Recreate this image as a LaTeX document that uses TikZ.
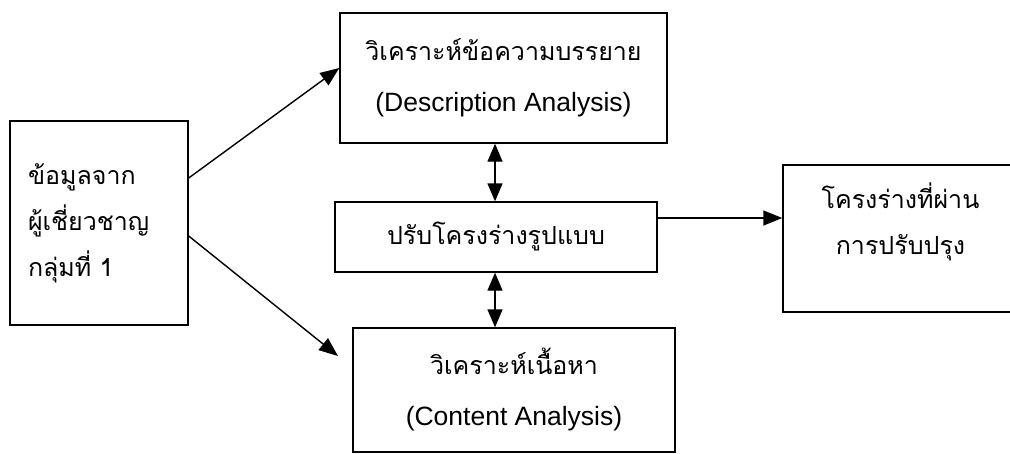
\documentclass[tikz,border=0pt]{standalone}
\usepackage{fontspec}
\setmainfont{Liberation Sans}
\newfontfamily\thai[Script=Thai]{Loma}
\usetikzlibrary{arrows.meta}
\begin{document}
\begin{tikzpicture}[x=1pt,y=-1pt,
  box/.style={draw, line width=1.4pt, rectangle, inner sep=0pt, align=center},
  th/.style={font=\thai\fontsize{25}{46}\selectfont},
  bi/.style={font=\fontsize{26.5}{51}\selectfont},
  conn/.style={line width=1.4pt, -{Triangle[length=19pt,width=15pt]}},
  dconn/.style={line width=1.4pt, {Triangle[length=18pt,width=15pt]}-{Triangle[length=18pt,width=15pt]}}]
\useasboundingbox (0,0) rectangle (1010,453);
\fill[white] (0,0) rectangle (1010,453);
% boxes
\node[box, minimum width=178pt, minimum height=204pt, align=left, text width=142pt, th] (src) at (99,223)
  {ข้อมูลจาก\\ผู้เชี่ยวชาญ\\กลุ่มที่ 1};
\node[box, minimum width=327pt, minimum height=130pt, bi] (desc) at (503.5,78)
  {{\thai\fontsize{25}{51}\selectfont วิเคราะห์ข้อความบรรยาย}\\(Description Analysis)};
\node[box, minimum width=322pt, minimum height=70pt, th] (mid) at (496,237)
  {ปรับโครงร่างรูปแบบ};
\node[box, minimum width=322pt, minimum height=124pt, bi] (cont) at (514,390)
  {{\thai\fontsize{25}{51}\selectfont วิเคราะห์เนื้อหา}\\(Content Analysis)\rule[-6pt]{0pt}{0pt}};
\node[box, minimum width=235pt, minimum height=147pt, th] (res) at (900.5,238.5)
  {โครงร่างที่ผ่าน\\การปรับปรุง\rule[-40pt]{0pt}{0pt}};
% helper coordinates
\coordinate (vx) at (495,0);
\coordinate (ay) at (0,218);
\coordinate (conttip) at (338,356);
% connectors
\draw[conn] ([yshift=45pt]src.east) -- ([yshift=10pt]desc.west);
\draw[conn] ([yshift=-13pt]src.east) -- (conttip);
\draw[dconn] (desc.south -| vx) -- (mid.north -| vx);
\draw[dconn] (mid.south -| vx) -- (cont.north -| vx);
\draw[conn] (mid.east |- ay) -- (res.west |- ay);
\end{tikzpicture}
\end{document}
